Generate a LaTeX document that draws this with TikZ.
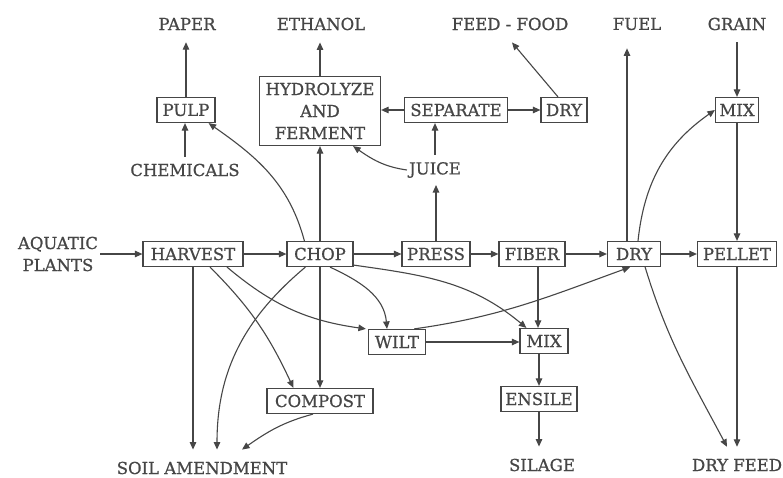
\documentclass[tikz,border=0pt]{standalone}
\usepackage{fontspec}
\setmainfont[FakeBold=0.8]{DejaVu Serif}
\usetikzlibrary{arrows.meta,calc}
\definecolor{ink}{RGB}{70,70,70}
\begin{document}
\begin{tikzpicture}[x=1pt,y=1pt,
  every node/.style={font=\fontsize{16.5}{22}\selectfont, text=ink},
  box/.style={draw=ink, line width=1.2pt, minimum height=25pt, inner sep=0pt},
  lbl/.style={inner xsep=1pt, inner ysep=12pt},
  mid/.style={inner xsep=2pt, inner ysep=7pt},
  flow/.style={draw=ink, line width=1.1pt, -{Triangle[length=7.5pt,width=6.5pt]}},
]
\useasboundingbox[fill=white] (0,0) rectangle (783,477);

% products along the top
\node[lbl] (paper)    at (187,453) {PAPER};
\node[lbl] (ethanol)  at (321,453) {ETHANOL};
\node[lbl] (feedfood) at (510,453) {FEED - FOOD};
\node[lbl] (fuel)     at (637,453) {FUEL};
\node[lbl] (grain)    at (737,453) {GRAIN};

% upper process row
\node[box, minimum width=58pt]  (pulp)     at (186,367) {PULP};
\node[box, minimum width=121pt, minimum height=69pt, align=center] (hydro) at (320,366)
  {HYDROLYZE\\AND\\FERMENT};
\node[box, minimum width=103pt] (separate) at (456,367) {SEPARATE};
\node[box, minimum width=46pt]  (dryA)     at (564,367) {DRY};
\node[box, minimum width=43pt]  (mixA)     at (737,367) {MIX};

\node[mid] (chem)  at (185,307) {CHEMICALS};
\node[mid] (juice) at (435,307) {JUICE};

% main row
\node[align=center, inner xsep=2pt] (aquatic) at (58,223) {AQUATIC\\PLANTS};
\node[box, minimum width=100pt] (harvest) at (193,223) {HARVEST};
\node[box, minimum width=66pt]  (chop)    at (320,223) {CHOP};
\node[box, minimum width=68pt]  (press)   at (436,223) {PRESS};
\node[box, minimum width=66pt]  (fiber)   at (532,223) {FIBER};
\node[box, minimum width=53pt]  (dryB)    at (634,223) {DRY};
\node[box, minimum width=79pt]  (pellet)  at (737,223) {PELLET};

% lower rows
\node[box, minimum width=57pt]  (wilt)    at (397,135) {WILT};
\node[box, minimum width=48pt]  (mixB)    at (544,136) {MIX};
\node[box, minimum width=106pt] (compost) at (320,76)  {COMPOST};
\node[box, minimum width=76pt]  (ensile)  at (539,78)  {ENSILE};

% end products along the bottom
\node[lbl] (soil)    at (202,9)  {SOIL AMENDMENT};
\node[lbl] (silage)  at (542,12) {SILAGE};
\node[lbl] (dryfeed) at (737,12) {DRY FEED};

% off-centre attachment points
\coordinate (fuelfoot)  at ($(dryB.north)+(-7,0)$);
\coordinate (fiberfoot) at ($(fiber.south)+(6,0)$);

% upward outputs
\draw[flow] (pulp.north) -- (pulp.north |- paper.south);
\draw[flow] (hydro.north) -- (hydro.north |- ethanol.south);
\draw[flow] ($(dryA.north)+(-6,0)$) -- ($(feedfood.south)+(2,0)$);
\draw[flow, shorten >=6pt] (fuelfoot) -- (fuelfoot |- fuel.south);
\draw[flow] (grain.south) -- (mixA.north);

% upper section
\draw[flow] (chem.north) -- (chem.north |- pulp.south);
\draw[flow] (juice.north) -- (juice.north |- separate.south);
\draw[flow] (press.north) -- (press.north |- juice.south);
\draw[flow] (juice.west) to[out=172,in=-35] ($(hydro.south east)+(-28,0)$);
\draw[flow] (separate.west) -- (separate.west -| hydro.east);
\draw[flow] (separate.east) -- (dryA.west);
\draw[flow] (chop.north) -- (hydro.south);
\draw[flow] ($(chop.north west)+(18,0)$) to[out=105,in=-35] ($(pulp.south east)+(-7,0)$);
\draw[flow] ($(dryB.north)+(4,0)$) to[out=84,in=-145] (mixA.west);
\draw[flow] (mixA.south) -- (pellet.north);

% main row
\draw[flow] (aquatic.east |- harvest.west) -- (harvest.west);
\draw[flow] (harvest.east) -- (chop.west);
\draw[flow] (chop.east) -- (press.west);
\draw[flow] (press.east) -- (fiber.west);
\draw[flow] (fiber.east) -- (dryB.west);
\draw[flow] (dryB.east) -- (pellet.west);

% lower section
\draw[flow] (harvest.south) -- (harvest.south |- soil.north);
\draw[flow] ($(chop.south west)+(19,0)$) to[out=-140,in=90] ($(soil.north)+(15,0)$);
\draw[flow] ($(compost.south)+(-7,0)$) to[out=-165,in=35] ($(soil.north)+(40,0)$);
\draw[flow] ($(harvest.south)+(17,0)$) to[out=-45,in=115] ($(compost.north west)+(27,0)$);
\draw[flow] (chop.south) -- (compost.north);
\draw[flow] ($(harvest.south)+(34,0)$) to[out=-40,in=172] ($(wilt.north west)+(-2,0)$);
\draw[flow] ($(chop.south)+(10,0)$) to[out=-25,in=95] ($(wilt.north)+(-10,0)$);
\draw[flow] ($(chop.south east)+(0,2)$) to[out=-8,in=140] ($(mixB.north west)+(7,0)$);
\draw[flow] (fiberfoot) -- (fiberfoot |- mixB.north);
\draw[flow] (wilt.east) -- (wilt.east -| mixB.west);
\draw[flow] ($(wilt.north east)+(-12,0)$) to[out=8,in=-160] ($(dryB.south)+(-4,0)$);
\draw[flow] (mixB.south -| ensile.north) -- (ensile.north);
\draw[flow] (ensile.south) -- (ensile.south |- silage.north);
\draw[flow] (pellet.south) -- (pellet.south |- dryfeed.north);
\draw[flow] ($(dryB.south east)+(-16,0)$) to[out=-73,in=118] ($(dryfeed.north)+(-10,0)$);
\end{tikzpicture}
\end{document}
